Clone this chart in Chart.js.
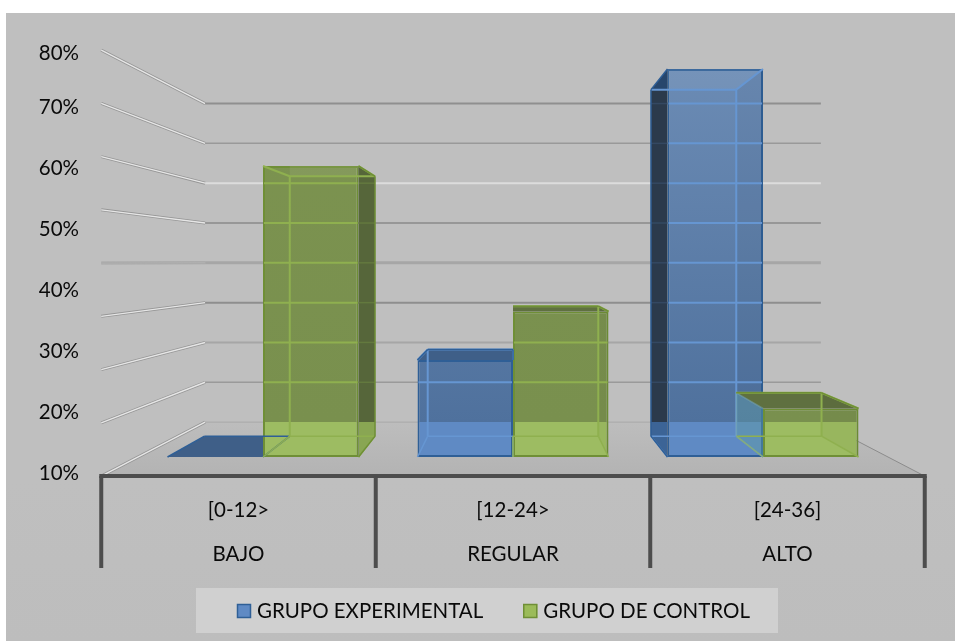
<!doctype html>
<html lang="es">
<head>
<meta charset="utf-8"/>
<title>Niveles por grupo</title>
<style>
  html,body{margin:0;background:#fff}
  canvas{display:block}
</style>
<script src="https://cdn.jsdelivr.net/npm/chart.js@4.4.0/dist/chart.umd.min.js"></script>
</head>
<body>
<canvas id="bars" width="955" height="641"></canvas>
<script>
  const ranges = ['[0-12>', '[12-24>', '[24-36]'];
  const levels = ['BAJO', 'REGULAR', 'ALTO'];
  const experimental = [0, 20, 80];
  const control = [60, 30, 10];
  const axisLabels = [10, 20, 30, 40, 50, 60, 70, 80];
  const gridValues = [0, 10, 20, 30, 40, 50, 60, 70, 80];

  const FONT = 'Lato, Carlito, sans-serif';

  // fake 3d: everything is drawn on the bars' front plane, then pushed towards a vanishing point
  const VANISH_Y = 262;
  const BAR_BACK = 0.893;
  const WALL = 0.821;
  const FLOOR_FRONT = 1.098;

  // colours per series: experimental, control
  const looks = [
    { top:'#6b8bb4', bottom:'#4f719d', low:'#5f8ac4', edge:'#2f5f96', line:'#6696d2', side:'#2b3a4c', sideLow:'#3c6496', cap:'#3f5f88' },
    { top:'#7c9350', bottom:'#79904e', low:'#9dbc62', edge:'#6f8f36', line:'#8fb04f', side:'#56663a', sideLow:'#89a653', cap:'#5f7040' }
  ];
  // back wall lines, bottom to top
  const wallLines = [
    { color:'#a8a8a8', w:1 }, { color:'#9a9a9a', w:1.5 }, { color:'#a6a6a6', w:2 }, { color:'#8e8e8e', w:2 },
    { color:'#a6a6a6', w:3 }, { color:'#8a8a8a', w:1.5 }, { color:'#dcdcdc', w:2 }, { color:'#999999', w:1.5 }, { color:'#8f8f8f', w:2 }
  ];

  function project(chart, x, y, k) {
    const cx = (chart.chartArea.left + chart.chartArea.right) / 2;
    return [cx + (x - cx) * k, VANISH_Y + (y - VANISH_Y) * k];
  }

  function poly(ctx, pts, fill) {
    ctx.beginPath();
    pts.forEach((p, i) => i ? ctx.lineTo(p[0], p[1]) : ctx.moveTo(p[0], p[1]));
    ctx.closePath();
    ctx.fillStyle = fill;
    ctx.fill();
  }

  function seg(ctx, a, b, color, w) {
    ctx.beginPath();
    ctx.moveTo(a[0], a[1]);
    ctx.lineTo(b[0], b[1]);
    ctx.strokeStyle = color;
    ctx.lineWidth = w;
    ctx.stroke();
  }

  // front and back rectangle of one bar element
  function boxOf(chart, bar) {
    const f = { l: bar.x - bar.width / 2, r: bar.x + bar.width / 2, t: bar.y, b: bar.base };
    const tl = project(chart, f.l, f.t, BAR_BACK);
    const br = project(chart, f.r, f.b, BAR_BACK);
    return { f, k: { l: tl[0], t: tl[1], r: br[0], b: br[1] } };
  }

  function floorEdge(chart) {
    return project(chart, 0, chart.scales.y.getPixelForValue(0), WALL)[1];
  }

  function barFill(ctx, i) {
    const chart = ctx.chart;
    if (!chart.chartArea) return looks[i].top;
    const y0 = chart.scales.y.getPixelForValue(80);
    const y1 = chart.scales.y.getPixelForValue(0);
    const cut = (floorEdge(chart) - y0) / (y1 - y0);
    const g = chart.ctx.createLinearGradient(0, y0, 0, y1);
    g.addColorStop(0, looks[i].top);
    g.addColorStop(cut, looks[i].bottom);
    g.addColorStop(cut, looks[i].low);
    g.addColorStop(1, looks[i].low);
    return g;
  }

  // side and top faces that stick out of the front rectangle
  function outerFaces(chart, i, bar) {
    const ctx = chart.ctx;
    const look = looks[i];
    const { f, k } = boxOf(chart, bar);
    const edge = floorEdge(chart);
    const side = (fx, kx) => {
      const pts = [[fx, f.t], [kx, k.t], [kx, k.b], [fx, f.b]];
      if (i === 1 && kx < fx) { poly(ctx, pts, 'rgba(100,165,170,.4)'); return; }
      poly(ctx, pts, look.side);
      ctx.save();
      ctx.beginPath();
      ctx.rect(Math.min(fx, kx), edge, Math.abs(fx - kx), 100);
      ctx.clip();
      poly(ctx, pts, look.sideLow);
      ctx.restore();
    };
    if (k.l < f.l) side(f.l, k.l);
    if (k.r > f.r) side(f.r, k.r);
    if (k.t < f.t) poly(ctx, [[f.l, f.t], [f.r, f.t], [k.r, k.t], [k.l, k.t]], look.cap);
    if (k.l < f.l && k.t > f.t) poly(ctx, [[f.l, f.t], [f.l, k.t], [k.l, k.t]], '#27466c');
    if (k.r > f.r && k.t > f.t) poly(ctx, [[f.r, f.t], [k.r, k.t], [f.r, k.t]], look.side);
  }

  // see-through parts: faces inside the front rectangle, back edges and wall lines
  function innerFaces(chart, i, bar) {
    const ctx = chart.ctx;
    const look = looks[i];
    const y = chart.scales.y;
    const { f, k } = boxOf(chart, bar);
    const line = look.line;
    const outline = (a, b) => seg(ctx, a, b, i ? 'rgba(120,165,175,.55)' : look.edge, 1.5);

    if (k.t > f.t) poly(ctx, [[Math.max(f.l, k.l), f.t], [f.r, f.t], [Math.min(f.r, k.r), k.t], [Math.max(f.l, k.l), k.t]], 'rgba(255,255,255,.07)');
    if (k.r < f.r) poly(ctx, [[f.r, f.t], [k.r, k.t], [k.r, k.b], [f.r, f.b]], 'rgba(0,0,0,.03)');

    gridValues.forEach(v => {
      const wy = project(chart, 0, y.getPixelForValue(v), WALL)[1];
      if (v === 0 || wy <= Math.min(k.t, f.t) || wy <= k.t || wy >= k.b) return;
      seg(ctx, [f.l + 1, wy], [f.r - 1, wy], line, 2);
      if (k.l < f.l) seg(ctx, [k.l, wy], [f.l, wy], 'rgba(70,100,140,.35)', 1.5);
      if (k.r > f.r) seg(ctx, [f.r, wy], [k.r, wy], 'rgba(120,150,70,.4)', 1.5);
    });

    if (f.t < f.b) {
      seg(ctx, [k.l, k.t], [k.r, k.t], line, 2);
      seg(ctx, [k.l, k.b], [k.r, k.b], line, 1.5);
      if (k.l > f.l) seg(ctx, [k.l, k.t], [k.l, k.b], line, 2);
      if (k.r < f.r) seg(ctx, [k.r, k.t], [k.r, k.b], line, 2);
      seg(ctx, [f.r, f.t], [k.r, k.t], line, 2);
      if (k.l > f.l) seg(ctx, [f.l, f.t], [k.l, k.t], line, 2);
      seg(ctx, [f.r, f.b], [k.r, k.b], line, 1.5);
      seg(ctx, [f.l, f.b], [k.l, k.b], line, 1.5);
    }
    // outline of the side that sticks out
    if (k.l < f.l && f.t < f.b) {
      outline([k.l, k.t], [k.l, k.b]);
      outline([k.l, k.t], [f.l, f.t]);
      outline([k.l, k.b], [f.l, f.b]);
    }
    if (k.r > f.r && f.t < f.b) {
      seg(ctx, [k.r, k.t], [k.r, k.b], look.edge, 1.5);
      seg(ctx, [k.r, k.t], [f.r, f.t], look.edge, 1.5);
      seg(ctx, [k.r, k.b], [f.r, f.b], look.edge, 1.5);
    }
    if (k.t < f.t) {
      seg(ctx, [k.l, k.t], [k.r, k.t], look.edge, 1.5);
      seg(ctx, [k.r, k.t], [f.r, f.t], look.edge, 1.5);
      if (k.l > f.l) seg(ctx, [k.l, k.t], [f.l, f.t], look.edge, 1.5);
    }
  }

  const room = {
    id: 'room',
    beforeDraw(chart) {
      const ctx = chart.ctx;
      ctx.save();
      const bg = ctx.createLinearGradient(0, 480, 0, 641);
      bg.addColorStop(0, '#bfbfbf');
      bg.addColorStop(1, '#bdbdbd');
      ctx.fillStyle = bg;
      ctx.fillRect(6, 13, 949, 628);
      ctx.restore();
    },
    beforeDatasetsDraw(chart) {
      const ctx = chart.ctx;
      const { left, right } = chart.chartArea;
      const y = chart.scales.y;
      const base = y.getPixelForValue(0);
      ctx.save();

      // floor
      const fl = project(chart, left, base, FLOOR_FRONT);
      const fr = project(chart, right, base, FLOOR_FRONT);
      const bl = project(chart, left, base, WALL);
      const br = project(chart, right, base, WALL);
      const floor = ctx.createLinearGradient(0, bl[1], 0, fl[1]);
      floor.addColorStop(0, '#bdbdbd');
      floor.addColorStop(1, '#b3b3b3');
      poly(ctx, [fl, fr, br, bl], floor);
      seg(ctx, fr, br, '#8c8c8c', 1);

      // back wall and left wall lines
      gridValues.forEach((v, i) => {
        const py = y.getPixelForValue(v);
        const a = project(chart, left, py, FLOOR_FRONT);
        const b = project(chart, left, py, WALL);
        const c = project(chart, right, py, WALL);
        seg(ctx, a, b, v === 40 ? '#a6a6a6' : '#969696', 3);
        seg(ctx, a, b, v === 40 ? '#b0b0b0' : '#e6e6e6', 1.4);
        seg(ctx, b, c, wallLines[i].color, wallLines[i].w);
      });

      chart.getSortedVisibleDatasetMetas().forEach(meta => {
        if (meta.index === 0) meta.data.forEach(bar => outerFaces(chart, 0, bar));
      });
      ctx.restore();
    },
    afterDatasetsDraw(chart) {
      const ctx = chart.ctx;
      ctx.save();
      chart.getSortedVisibleDatasetMetas().forEach(meta => {
        meta.data.forEach(bar => {
          if (meta.index === 1) outerFaces(chart, 1, bar);
          innerFaces(chart, meta.index, bar);
        });
      });
      ctx.restore();
    },
    afterDraw(chart) {
      const ctx = chart.ctx;
      const { left, right } = chart.chartArea;
      const levelsAxis = chart.scales.xLevels;
      const base = chart.scales.y.getPixelForValue(0);
      ctx.save();

      // category frame under the floor
      const a = project(chart, left, base, FLOOR_FRONT);
      const b = project(chart, right, base, FLOOR_FRONT);
      seg(ctx, [a[0] - 2, a[1]], [b[0] + 2, b[1]], '#4d4d4d', 4);
      [-0.5, 0.5, 1.5, 2.5].forEach(v => {
        const x = levelsAxis.getPixelForValue(v);
        seg(ctx, [x, a[1]], [x, 568], '#4d4d4d', 4);
      });

      // legend strip
      ctx.fillStyle = '#d0d0d0';
      ctx.fillRect(196, 588, 582, 45);
      ctx.font = '20.5px ' + FONT;
      ctx.textBaseline = 'middle';
      let x = 237;
      chart.data.datasets.forEach((d, i) => {
        ctx.fillStyle = i ? '#9bbb59' : '#5f8ac4';
        ctx.fillRect(x, 604, 14, 14);
        ctx.strokeStyle = looks[i].edge;
        ctx.lineWidth = 1.5;
        ctx.strokeRect(x + .5, 604.5, 13, 13);
        ctx.fillStyle = '#0a0a0a';
        ctx.fillText(d.label, x + 20, 611);
        x += ctx.measureText(d.label).width + 60;
      });
      ctx.restore();
    }
  };

  new Chart(document.getElementById('bars'), {
    type: 'bar',
    data: {
      labels: levels,
      datasets: [
        { label: 'GRUPO EXPERIMENTAL', data: experimental, backgroundColor: c => barFill(c, 0), borderColor: looks[0].edge, borderWidth: 2, borderSkipped: false },
        { label: 'GRUPO DE CONTROL', data: control, backgroundColor: c => barFill(c, 1), borderColor: looks[1].edge, borderWidth: 2, borderSkipped: false }
      ]
    },
    options: {
      responsive: false,
      animation: false,
      events: [],
      categoryPercentage: 0.764,
      barPercentage: 1,
      layout: { padding: { top: 46, right: 67, bottom: 0, left: 0 } },
      plugins: { legend: { display: false }, tooltip: { enabled: false } },
      scales: {
        x: { display: false },
        y: { display: false, min: -3.299, max: 84.742 },
        // printed percentages
        yTicks: {
          axis: 'y',
          type: 'linear',
          position: 'left',
          min: 10,
          max: 80,
          afterBuildTicks: s => { s.ticks = axisLabels.map(v => ({ value: v === 80 ? 78.85 : v })); },
          afterFit: s => { s.width = 138; s.paddingTop = 0; s.paddingBottom = 0; },
          grid: { display: false },
          border: { display: false },
          ticks: { autoSkip: false, padding: 51, color: '#0a0a0a', font: { family: FONT, size: 20.5 }, callback: (v, i) => axisLabels[i] + '%' }
        },
        // two line labels under each group, wider apart than the bars
        xLevels: {
          axis: 'x',
          type: 'linear',
          position: 'bottom',
          offset: false,
          min: 1 - 1.5 / FLOOR_FRONT,
          max: 1 + 1.5 / FLOOR_FRONT,
          afterBuildTicks: s => { s.ticks = ranges.map((r, i) => ({ value: i })); },
          afterFit: s => { s.height = 168; s.paddingLeft = 0; s.paddingRight = 0; },
          grid: { display: false },
          border: { display: false },
          ticks: {
            autoSkip: false,
            maxRotation: 0,
            padding: 7,
            color: '#0a0a0a',
            font: { family: FONT, size: 20.5, lineHeight: 2.15 },
            callback: (v, i) => [ranges[i], levels[i]]
          }
        }
      }
    },
    plugins: [room]
  });
</script>
</body>
</html>
